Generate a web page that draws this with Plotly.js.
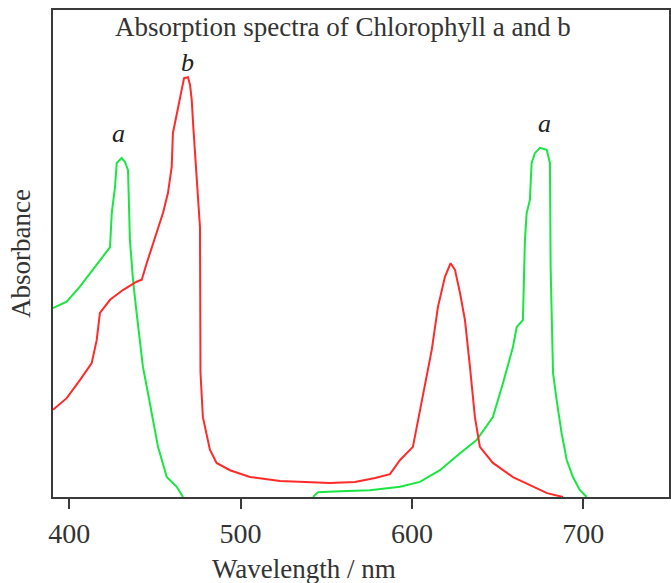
<!DOCTYPE html>
<html>
<head>
<meta charset="utf-8">
<script src="https://cdn.plot.ly/plotly-3.0.1.min.js"></script>
<style>html,body{margin:0;padding:0;background:#fff;}#chart{width:671px;height:583px;}</style>
</head>
<body>
<div id="chart"></div>
<script>
// Chlorophyll b (red) — wavelength (nm) and relative absorbance
const chlB_wl = [390.5,398.5,406.2,413.1,416.0,417.9,423.8,431.3,439.3,442.3,445.2,448.9,454.7,457.6,459.8,460.5,462.7,465.6,467.0,469.3,470.5,471.5,472.4,476.3,476.6,478.0,482.1,486.0,493.8,505.5,523.0,534.7,552.2,566.8,578.5,587.2,593.1,600.6,603.6,607.7,611.6,615.2,619.3,622.6,625.2,628.1,631.0,633.9,636.8,639.7,647.3,659.0,670.7,678.9,688.2];
const chlB_abs = [0.179,0.203,0.240,0.275,0.322,0.378,0.405,0.425,0.442,0.446,0.480,0.522,0.583,0.624,0.678,0.747,0.789,0.836,0.860,0.862,0.846,0.815,0.760,0.554,0.255,0.164,0.097,0.070,0.055,0.041,0.033,0.031,0.029,0.031,0.039,0.047,0.076,0.103,0.158,0.234,0.302,0.390,0.452,0.480,0.466,0.419,0.363,0.267,0.164,0.103,0.070,0.041,0.021,0.008,0.0];

// Chlorophyll a (green) — the curve runs below the visible range between the two bands
const chlA_wl = [390.5,398.5,406.2,413.8,419.7,423.8,424.8,426.7,427.7,430.6,432.5,434.3,435.4,437.2,439.3,443.0,445.9,448.9,451.8,456.9,462.7,466.4,null,542.3,545.2,558.0,575.5,593.1,604.7,616.4,628.1,637.8,647.3,653.2,659.0,661.2,664.8,666.0,667.0,668.9,669.9,671.8,674.8,678.7,680.6,681.0,681.6,682.4,684.5,687.4,690.4,694.0,698.1,702.0];
const chlA_abs = [0.388,0.401,0.432,0.466,0.493,0.513,0.583,0.637,0.686,0.696,0.688,0.671,0.528,0.446,0.378,0.267,0.214,0.158,0.103,0.041,0.021,0.0,null,0.0,0.010,0.012,0.014,0.021,0.031,0.055,0.090,0.117,0.164,0.234,0.308,0.349,0.363,0.528,0.583,0.610,0.686,0.706,0.717,0.713,0.686,0.472,0.337,0.255,0.199,0.131,0.076,0.041,0.014,0.0];

// Peak labels
const peakLabels = ['a','b','a'];
const peakWl = [428.5,469.3,677.7];
const peakAbs = [0.747,0.893,0.766];

const xTicks = [400,500,600,700];

const serif = 'Liberation Serif, Times New Roman, serif';
const axisColor = '#3a3a3a';

const traces = [
  {x: chlA_wl, y: chlA_abs, mode:'lines', name:'Chlorophyll a', connectgaps:false,
   line:{color:'#19e640', width:2}},
  {x: chlB_wl, y: chlB_abs, mode:'lines', name:'Chlorophyll b',
   line:{color:'#ff2a2a', width:2}}
];

const annotations = peakLabels.map((t,i)=>({
  x: peakWl[i], y: peakAbs[i], xref:'x', yref:'y', text:'<i>'+t+'</i>', showarrow:false,
  font:{family:serif, size:26, color:'#222'},
  xanchor:'center', yanchor:'middle'
}));

annotations.push({
  text:'Wavelength / nm', xref:'paper', yref:'paper', x:0.4075, y:-0.112,
  xanchor:'center', yanchor:'top', showarrow:false,
  font:{family:serif, size:27, color:'#333'}
});

const layout = {
  width:671, height:583,
  margin:{l:53, r:2, t:10, b:86},
  paper_bgcolor:'#fff', plot_bgcolor:'#fff',
  showlegend:false,
  title:{text:'Absorption spectra of Chlorophyll a and b', xref:'container', yref:'container',
         x:0.511, y:1-27/583, xanchor:'center', yanchor:'middle',
         font:{family:serif, size:27, color:'#333'}},
  xaxis:{range:[390.5,750.1], tickvals:xTicks, ticktext:xTicks.map(String),
         ticks:'outside', ticklen:10, tickwidth:2, tickcolor:axisColor,
         showline:true, mirror:true, linecolor:axisColor, linewidth:2,
         showgrid:false, zeroline:false,
         tickfont:{family:serif, size:28, color:'#333'}},
  yaxis:{range:[0,1], showticklabels:false, ticks:'',
         showline:true, mirror:true, linecolor:axisColor, linewidth:2,
         showgrid:false, zeroline:false,
         title:{text:'Absorbance', standoff:13, font:{family:serif, size:27, color:'#333'}}},
  annotations: annotations
};

Plotly.newPlot('chart', traces, layout, {displayModeBar:false, staticPlot:true});
</script>
</body>
</html>
